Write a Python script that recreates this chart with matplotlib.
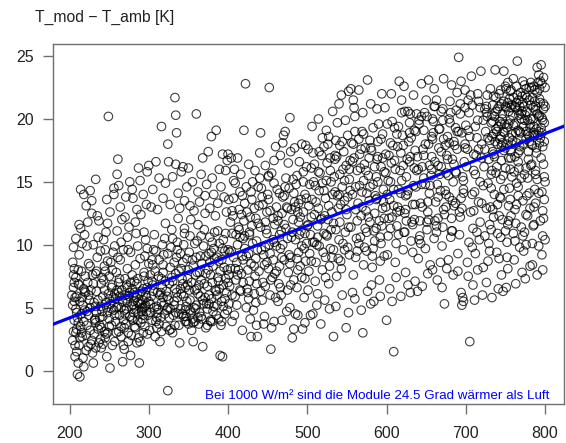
import numpy as np
import matplotlib
matplotlib.use("Agg")
import matplotlib.pyplot as plt

plt.rcParams['font.family'] = ['Liberation Sans', 'DejaVu Sans']

#%% data: (irradiance W/m2, T_mod - T_amb K), per 100 W/m2 band

band_200 = [
    (204, 2.4), (205, 3.1), (206, 4.0), (204, 5.2), (207, 5.8), (205, 6.6), (208, 7.4), (206, 8.1),
    (204, 8.6), (209, 1.5), (210, -0.3), (213, -0.5), (211, 0.6), (207, 1.1), (212, 2.0), (214, 3.5),
    (209, 4.6), (213, 5.5), (211, 6.9), (215, 7.9), (212, 9.2), (216, 10.1), (214, 11.3), (210, 4.2),
    (208, 3.0), (216, 2.7), (217, 1.0), (218, 0.3), (219, 4.8), (220, 6.2), (214, 14.4), (221, 13.1),
    (226, 14.3), (228, 13.5), (228, 12.5), (222, 9.9), (224, 8.5), (223, 7.0), (225, 5.6), (224, 4.4),
    (226, 3.2), (227, 2.1), (229, 1.4), (230, 0.6), (231, 2.9), (232, 4.0), (233, 5.1), (234, 6.3),
    (233, 7.7), (235, 9.0), (236, 10.6), (237, 11.9), (238, 3.6), (239, 2.5), (240, 1.8), (241, 4.7),
    (242, 5.9), (243, 7.2), (244, 8.3), (245, 9.6), (246, 11.0), (247, 1.1), (248, 3.0), (249, 20.2),
    (250, 4.1), (251, 0.2), (252, 5.3), (253, 6.6), (254, 8.0), (255, 9.4), (256, 14.5), (256, 14.0),
    (257, 2.3), (258, 3.9), (259, 5.0), (260, 15.6), (261, 16.8), (262, 6.2), (263, 7.3), (264, 8.8),
    (265, 10.2), (266, 12.0), (267, 0.7), (268, 2.0), (269, 3.4), (270, 4.5), (271, 5.7), (272, 6.8),
    (273, 8.1), (274, 9.6), (275, 11.4), (276, 15.0), (277, 1.2), (278, 2.8), (279, 4.2), (280, 5.2),
    (281, 6.0), (282, 7.1), (283, 8.4), (284, 10.9), (285, 12.8), (287, 16.1), (288, 0.6), (289, 2.3),
    (290, 3.8), (291, 4.9), (292, 5.6), (293, 6.5), (294, 7.8), (295, 9.1), (296, 10.4), (297, 13.2),
    (298, 15.8), (299, 4.4), (300, 5.5),
    (203, 6.0), (206, 7.0), (209, 5.9), (211, 3.8), (215, 4.5), (217, 5.2), (218, 6.5), (221, 2.8),
    (222, 3.6), (224, 1.9), (227, 6.4), (229, 7.6), (231, 5.4), (234, 4.6), (236, 3.3), (237, 2.2),
    (240, 6.9), (242, 4.3), (244, 3.1), (245, 2.6), (247, 5.0), (249, 6.1), (250, 7.5), (252, 8.6),
    (253, 3.6), (254, 2.0), (256, 4.8), (258, 5.7), (259, 7.8), (261, 9.0), (262, 3.1), (263, 4.4),
    (265, 5.0), (266, 6.4), (268, 9.6), (269, 1.7), (270, 7.3), (272, 4.9), (273, 5.4), (274, 3.0),
    (276, 6.2), (278, 5.1), (279, 7.6), (281, 4.6), (282, 3.5), (284, 5.8), (285, 6.9), (286, 4.0),
    (287, 2.6), (288, 5.3), (289, 8.9), (291, 6.3), (292, 4.1), (293, 3.0), (295, 5.1), (296, 6.0),
    (297, 4.7), (298, 2.9), (299, 7.1), (300, 8.5),
    (205, 9.8), (208, 10.5), (212, 11.6), (219, 10.8), (223, 11.8), (230, 10.0), (235, 12.3), (239, 9.5),
    (243, 10.4), (248, 11.7), (251, 12.6), (257, 9.9), (260, 11.1), (264, 13.0), (270, 12.2), (273, 10.6),
    (277, 9.4), (280, 13.7), (283, 11.8), (286, 9.9), (290, 12.4), (294, 11.0), (298, 9.7),
    (218, 14.0), (233, 15.2), (247, 13.6), (262, 14.7), (271, 13.8), (279, 14.4), (289, 15.1), (293, 14.0),
    (300, 16.3),
]

core_200 = [
    (233, 3.8), (261, 5.1), (287, 4.5), (219, 6.3), (246, 2.9), (275, 5.9), (292, 5.0), (208, 4.9),
    (254, 6.8), (283, 3.4), (226, 5.0), (268, 4.0), (297, 5.8), (213, 2.6), (241, 7.4), (279, 6.5),
    (250, 3.5), (222, 4.7), (265, 2.7), (289, 6.1), (236, 5.6), (271, 3.7), (205, 7.6), (257, 4.4),
    (284, 4.9), (230, 6.9), (246, 5.4), (274, 2.3), (293, 4.4), (216, 5.8), (262, 7.0), (281, 5.5),
    (238, 4.2), (209, 3.3), (255, 5.8), (286, 7.3), (228, 2.4), (267, 5.5), (295, 3.5), (244, 6.4),
    (212, 6.8), (276, 4.3), (259, 3.0), (234, 7.9), (290, 5.3), (221, 1.6), (248, 4.6), (282, 6.2),
    (270, 6.0), (206, 5.5), (240, 3.4), (263, 5.9), (298, 6.6), (226, 8.3), (253, 4.9), (285, 2.2),
    (215, 3.0), (277, 7.0), (245, 7.9), (233, 1.8), (291, 4.7), (260, 6.4), (220, 7.5), (269, 4.8),
    (250, 5.7), (207, 2.0), (280, 4.0), (239, 5.1), (296, 5.2), (224, 6.0), (257, 6.1), (273, 6.6),
    (211, 8.0), (248, 8.7), (286, 5.4), (232, 4.1), (265, 3.5), (242, 2.1), (218, 3.9), (294, 7.5),
]

band_300 = [
    (301, 3.2), (302, 4.6), (303, 5.9), (304, 7.1), (305, 8.4), (306, 9.6), (307, 10.8), (308, 2.7),
    (309, 3.9), (310, 5.1), (311, 6.2), (312, 7.5), (313, 8.8), (314, 2.3), (315, 4.2), (316, 5.4),
    (317, 6.6), (318, 7.8), (319, 9.2), (320, 10.5), (321, 11.7), (322, 3.5), (323, 4.8), (324, -1.6),
    (325, 5.6), (326, 6.9), (327, 8.2), (328, 9.8), (329, 11.2), (330, 3.0), (331, 4.4), (332, 5.2),
    (333, 6.5), (334, 7.7), (335, 9.0), (336, 10.2), (337, 12.1), (338, 3.6), (339, 2.2), (340, 4.9),
    (341, 6.1), (342, 7.3), (343, 8.6), (344, 10.0), (345, 11.3), (346, 3.9), (347, 4.3), (348, 5.5),
    (349, 6.8), (350, 8.0), (351, 9.4), (352, 10.7), (353, 12.0), (354, 3.2), (355, 4.1), (356, 2.3),
    (357, 5.0), (358, 6.4), (359, 7.6), (360, 9.0), (361, 10.3), (362, 11.6), (363, 3.7), (364, 4.6),
    (365, 5.9), (366, 7.2), (367, 8.5), (368, 1.9), (369, 9.9), (370, 11.2), (371, 12.5), (372, 3.4),
    (373, 5.3), (374, 6.7), (375, 8.0), (376, 9.3), (377, 10.6), (378, 4.0), (379, 5.7), (380, 7.0),
    (381, 8.3), (382, 9.7), (383, 11.0), (384, 12.3), (385, 4.4), (386, 6.0), (387, 7.4), (388, 8.7),
    (389, 10.1), (390, 1.2), (391, 3.6), (392, 5.5), (393, 1.1), (394, 6.8), (395, 8.2), (396, 9.5),
    (397, 10.9), (398, 12.6), (399, 4.8), (400, 7.0),
    (302, 5.3), (304, 4.0), (306, 6.3), (308, 7.9), (310, 3.4), (312, 4.9), (314, 6.0), (316, 3.1),
    (318, 5.8), (320, 4.5), (322, 6.3), (324, 5.0), (326, 4.2), (328, 3.3), (330, 7.1), (332, 8.6),
    (334, 4.6), (336, 5.8), (338, 7.9), (340, 9.3), (342, 4.5), (344, 5.9), (346, 6.6), (348, 8.9),
    (350, 3.7), (352, 4.8), (354, 7.0), (356, 8.3), (358, 3.9), (360, 5.2), (362, 6.1), (364, 7.8),
    (366, 4.3), (368, 5.6), (370, 6.9), (372, 9.1), (374, 4.9), (376, 5.3), (378, 7.6), (380, 3.9),
    (382, 5.1), (384, 6.4), (386, 9.0), (388, 4.1), (390, 7.9), (392, 8.8), (394, 10.4), (396, 5.7),
    (398, 6.2), (400, 9.6),
    (303, 13.0), (305, 14.4), (309, 16.6), (311, 12.8), (313, 15.3), (316, 19.4), (318, 13.7), (321, 14.9),
    (324, 18.0), (325, 16.6), (327, 13.2), (330, 15.4), (333, 21.7), (334, 16.4), (334, 20.3), (335, 18.9),
    (337, 14.1), (339, 12.9), (341, 15.8), (343, 16.2), (345, 13.5), (348, 14.6), (350, 16.1), (352, 13.1),
    (355, 15.0), (357, 12.7), (360, 20.4), (362, 14.2), (364, 13.4), (366, 15.6), (368, 16.9), (371, 13.9),
    (373, 14.8), (375, 17.4), (377, 12.9), (379, 18.6), (380, 15.3), (382, 14.0), (385, 19.1), (387, 13.3),
    (389, 16.0), (391, 14.6), (393, 17.2), (395, 13.8), (397, 15.9), (399, 16.7),
]

core_300 = [
    (311, 4.6), (347, 5.1), (329, 7.4), (362, 4.2), (385, 6.3), (305, 6.8), (338, 4.5), (356, 3.8),
    (372, 7.7), (394, 5.1), (318, 8.4), (343, 6.9), (365, 9.1), (381, 4.7), (323, 5.9), (352, 5.6),
    (309, 9.5), (376, 6.0), (333, 3.6), (399, 8.0), (341, 8.1), (315, 6.2), (359, 4.9), (388, 7.1),
    (327, 4.9), (369, 5.3), (302, 7.6), (348, 3.9), (392, 3.9), (336, 9.6), (313, 3.7), (363, 6.8),
    (380, 10.2), (321, 7.1), (355, 8.8), (397, 7.3), (344, 4.3), (307, 5.0), (374, 3.6), (330, 10.5),
    (360, 6.5), (386, 5.2), (317, 10.0), (349, 7.3), (377, 8.6), (340, 6.5), (326, 3.2), (393, 9.7),
    (367, 4.1), (304, 8.8), (353, 4.6), (383, 8.9), (335, 6.2), (316, 7.3), (371, 5.8), (345, 10.9),
    (389, 6.5), (324, 9.3), (358, 10.1), (310, 4.2), (379, 9.4), (346, 4.8), (396, 4.5), (332, 5.5),
    (361, 7.8), (378, 3.9), (319, 5.2), (351, 6.4), (387, 11.1), (366, 10.7),
]

band_400 = [
    (401, 5.3), (402, 6.7), (403, 8.1), (404, 9.5), (405, 10.9), (406, 12.3), (407, 13.7), (408, 4.4),
    (409, 5.9), (410, 7.2), (411, 8.6), (412, 10.0), (413, 11.4), (414, 12.8), (415, 14.2), (416, 6.3),
    (417, 7.7), (418, 9.1), (419, 10.5), (420, 11.9), (421, 13.3), (422, 22.8), (423, 5.0), (424, 6.5),
    (425, 8.0), (426, 9.3), (427, 10.8), (428, 12.2), (429, 2.7), (430, 13.6), (431, 15.0), (432, 4.8),
    (433, 6.1), (434, 7.5), (435, 8.9), (436, 10.3), (437, 2.7), (438, 11.7), (439, 13.1), (440, 17.3),
    (441, 18.9), (442, 14.5), (443, 5.6), (444, 7.0), (445, 3.7), (446, 8.4), (447, 9.8), (448, 11.2),
    (449, 12.6), (450, 14.0), (451, 15.4), (452, 22.5), (453, 6.0), (454, 1.7), (455, 3.4), (456, 7.4),
    (457, 8.8), (458, 10.2), (459, 11.6), (460, 17.8), (461, 13.0), (462, 14.4), (463, 5.5), (464, 6.9),
    (465, 8.3), (466, 9.7), (467, 11.1), (468, 12.5), (469, 18.1), (470, 18.7), (471, 13.9), (472, 19.0),
    (473, 15.3), (474, 4.7), (475, 6.4), (476, 7.8), (477, 9.2), (478, 20.1), (479, 17.4), (480, 10.6),
    (481, 2.6), (482, 12.0), (483, 3.3), (484, 13.4), (485, 4.5), (486, 14.8), (487, 6.6), (488, 8.0),
    (489, 9.4), (490, 10.8), (491, 12.2), (492, 13.6), (493, 18.0), (494, 3.3), (495, 15.0), (496, 5.8),
    (497, 7.3), (498, 8.7), (499, 10.1), (500, 11.5),
    (401, 7.6), (403, 11.8), (405, 6.0), (407, 9.0), (409, 14.9), (411, 5.2), (413, 8.0), (415, 10.6),
    (417, 12.4), (419, 7.0), (421, 9.7), (423, 14.6), (425, 6.2), (427, 11.0), (429, 8.5), (431, 10.1),
    (433, 12.9), (435, 5.4), (437, 9.6), (439, 7.9), (441, 11.4), (443, 13.8), (445, 9.2), (447, 6.7),
    (449, 10.9), (451, 8.1), (453, 12.7), (455, 15.7), (457, 10.4), (459, 7.7), (461, 9.9), (463, 11.9),
    (465, 14.1), (467, 6.0), (469, 10.0), (471, 8.8), (473, 11.3), (475, 12.9), (477, 14.5), (479, 9.0),
    (481, 11.0), (483, 7.2), (485, 13.0), (487, 15.5), (489, 11.8), (491, 8.3), (493, 9.9), (495, 12.6),
    (497, 14.0), (499, 16.2),
    (400, 17.2), (404, 16.9), (408, 16.0), (412, 16.9), (416, 15.6), (420, 19.1), (426, 16.4), (434, 15.9),
    (447, 16.3), (451, 15.5), (458, 16.7), (466, 17.1), (476, 16.5), (484, 17.7), (490, 16.6), (498, 17.9),
    (405, 3.9), (418, 3.2), (428, 4.1), (436, 3.6), (446, 4.3), (458, 3.9), (468, 4.0), (478, 5.0),
    (488, 4.4), (497, 3.8),
]

core_400 = [
    (412, 7.6), (447, 11.8), (468, 9.0), (489, 13.3), (405, 12.7), (433, 8.3), (458, 14.9), (479, 6.8),
    (421, 10.7), (496, 9.7), (441, 6.3), (463, 12.3), (418, 13.9), (485, 10.4), (427, 7.1), (452, 10.0),
    (474, 13.0), (402, 9.4), (438, 14.6), (493, 7.4), (415, 6.4), (461, 7.9), (482, 15.2), (430, 11.5),
    (449, 8.6), (471, 11.6), (407, 15.1), (444, 13.2), (488, 12.6), (423, 9.1), (466, 6.6), (499, 13.7),
    (436, 6.9), (457, 12.1), (478, 8.5), (410, 10.8), (492, 11.1), (429, 14.2), (454, 7.2), (475, 10.5),
    (419, 8.8), (442, 9.6), (483, 14.1), (465, 10.8), (401, 13.6), (435, 12.1), (497, 10.9), (451, 13.6),
    (426, 5.7), (472, 14.6), (414, 11.2), (487, 8.9), (440, 15.3), (460, 5.8), (480, 12.8), (424, 12.6),
    (453, 9.3), (495, 15.8), (409, 8.1), (469, 13.8),
]

band_500 = [
    (501, 6.4), (502, 7.9), (503, 9.3), (504, 10.8), (505, 12.2), (506, 13.6), (507, 4.5), (508, 15.0),
    (509, 16.4), (510, 7.1), (511, 8.6), (512, 10.0), (513, 11.5), (514, 12.9), (515, 14.3), (516, 15.7),
    (517, 3.7), (518, 17.1), (519, 8.0), (520, 9.4), (521, 10.9), (522, 12.3), (523, 13.7), (524, 15.1),
    (525, 16.5), (526, 18.0), (527, 6.9), (528, 8.3), (529, 9.7), (530, 11.2), (531, 12.6), (532, 14.0),
    (533, 2.7), (534, 15.4), (535, 16.8), (536, 18.3), (537, 7.5), (538, 19.7), (539, 8.9), (540, 10.4),
    (541, 11.8), (542, 13.2), (543, 21.9), (544, 14.6), (545, 16.0), (546, 17.4), (547, 9.6), (548, 11.0),
    (549, 3.4), (550, 12.4), (551, 13.8), (552, 22.2), (553, 15.2), (554, 16.7), (555, 22.4), (556, 18.1),
    (557, 6.2), (558, 7.6), (559, 20.9), (560, 20.2), (561, 9.0), (562, 10.5), (563, 11.9), (564, 13.3),
    (565, 22.3), (566, 14.7), (567, 16.1), (568, 17.6), (569, 19.0), (570, 3.0), (571, 8.4), (572, 9.8),
    (573, 11.3), (574, 12.7), (575, 14.1), (576, 23.1), (577, 15.5), (578, 16.9), (579, 18.3), (580, 5.3),
    (581, 6.8), (582, 8.2), (583, 9.7), (584, 11.1), (585, 12.5), (586, 13.9), (587, 15.4), (588, 16.8),
    (589, 18.2), (590, 19.6), (591, 7.2), (592, 8.7), (593, 10.1), (594, 11.5), (595, 12.9), (596, 14.4),
    (597, 15.8), (598, 20.9), (599, 17.2), (600, 4.0),
    (501, 11.6), (503, 14.8), (505, 8.7), (507, 17.3), (509, 10.2), (511, 13.4), (513, 6.1), (515, 9.9),
    (517, 12.0), (519, 14.9), (521, 17.8), (523, 7.4), (525, 10.7), (527, 13.1), (529, 15.9), (531, 9.0),
    (533, 11.7), (535, 14.2), (537, 17.0), (539, 12.9), (541, 15.6), (543, 8.1), (545, 10.1), (547, 13.5),
    (549, 16.3), (551, 18.7), (553, 9.2), (555, 11.4), (557, 14.0), (559, 16.9), (561, 12.8), (563, 15.9),
    (565, 18.4), (567, 10.6), (569, 13.0), (571, 15.1), (573, 17.7), (575, 9.5), (577, 12.2), (579, 14.6),
    (581, 17.5), (583, 19.3), (585, 10.3), (587, 13.6), (589, 15.0), (591, 11.9), (593, 16.2), (595, 18.8),
    (597, 9.1), (599, 13.0),
    (504, 4.4), (512, 5.2), (522, 5.6), (528, 4.9), (536, 5.1), (544, 6.0), (552, 4.6), (560, 5.7),
    (568, 4.8), (576, 6.3), (584, 5.5), (592, 5.9), (506, 19.4), (514, 20.0), (524, 19.1), (532, 20.6),
    (540, 21.2), (548, 19.9), (558, 21.5), (570, 20.5), (580, 21.2), (588, 20.8), (594, 22.0),
]

core_500 = [
    (513, 10.6), (547, 15.1), (568, 12.3), (589, 17.0), (505, 16.1), (533, 9.6), (558, 18.0), (579, 11.8),
    (521, 14.3), (596, 13.4), (541, 17.9), (563, 9.5), (518, 12.1), (585, 16.2), (527, 18.6), (552, 11.4),
    (574, 15.9), (502, 13.1), (538, 13.9), (593, 18.4), (515, 17.4), (561, 14.6), (582, 9.1), (530, 15.0),
    (549, 12.8), (571, 18.8), (507, 10.2), (544, 18.2), (588, 13.7), (523, 9.0), (566, 17.2), (599, 15.7),
    (536, 11.2), (557, 16.6), (578, 13.5), (510, 14.7), (592, 10.6), (529, 16.9), (554, 14.3), (575, 11.0),
    (519, 18.5), (542, 8.7), (583, 14.8), (565, 10.1), (501, 17.6), (535, 17.1), (597, 12.1), (551, 9.8),
    (526, 12.0), (572, 16.4), (514, 15.8), (587, 11.3), (540, 14.0), (560, 19.0), (580, 17.7), (524, 10.8),
    (553, 16.0), (595, 16.9), (509, 12.4), (569, 14.2),
]

band_600 = [
    (601, 9.2), (602, 10.7), (603, 12.1), (604, 13.6), (605, 15.0), (606, 16.5), (607, 5.5), (608, 17.9),
    (609, 1.5), (610, 19.3), (611, 8.6), (612, 10.1), (613, 11.5), (614, 13.0), (615, 14.4), (616, 23.0),
    (617, 15.9), (618, 17.3), (619, 21.5), (620, 18.7), (621, 9.6), (622, 11.0), (623, 12.5), (624, 13.9),
    (625, 15.4), (626, 16.8), (627, 6.8), (628, 18.2), (629, 19.7), (630, 20.4), (631, 10.3), (632, 11.8),
    (633, 13.2), (634, 14.7), (635, 16.1), (636, 17.5), (637, 19.0), (638, 20.4), (639, 6.3), (640, 8.9),
    (641, 10.4), (642, 11.9), (643, 13.3), (644, 14.8), (645, 16.2), (646, 17.6), (647, 19.1), (648, 20.5),
    (649, 9.7), (650, 21.5), (651, 11.2), (652, 12.6), (653, 23.1), (654, 14.1), (655, 8.4), (656, 15.5),
    (657, 17.0), (658, 18.4), (659, 19.8), (660, 10.5), (661, 11.9), (662, 13.4), (663, 21.5), (664, 14.8),
    (665, 16.3), (666, 17.7), (667, 19.2), (668, 8.6), (669, 20.6), (670, 9.9), (671, 11.4), (672, 12.8),
    (673, 5.3), (674, 14.3), (675, 15.7), (676, 17.1), (677, 18.6), (678, 8.8), (679, 20.0), (680, 21.4),
    (681, 10.6), (682, 12.1), (683, 13.5), (684, 15.0), (685, 16.4), (686, 17.9), (687, 19.3), (688, 20.7),
    (689, 22.1), (690, 9.3), (691, 24.9), (692, 10.8), (693, 12.2), (694, 13.7), (695, 5.2), (696, 5.8),
    (697, 15.1), (698, 16.6), (699, 18.0), (700, 19.5),
    (601, 14.0), (603, 17.1), (605, 11.3), (607, 19.8), (609, 13.1), (611, 16.0), (613, 18.8), (615, 10.8),
    (617, 12.7), (619, 15.1), (621, 17.9), (623, 20.6), (625, 11.9), (627, 14.3), (629, 16.6), (631, 18.5),
    (633, 9.4), (635, 12.0), (637, 14.6), (639, 17.0), (641, 19.6), (643, 10.1), (645, 13.0), (647, 15.3),
    (649, 18.0), (651, 20.2), (653, 12.0), (655, 14.7), (657, 16.0), (659, 18.9), (661, 21.0), (663, 11.0),
    (665, 13.8), (667, 15.6), (669, 17.4), (671, 19.9), (673, 12.4), (675, 14.0), (677, 16.8), (679, 18.1),
    (681, 20.5), (683, 11.1), (685, 13.1), (687, 15.8), (689, 17.6), (691, 19.0), (693, 21.2), (695, 12.9),
    (697, 14.4), (699, 20.9),
    (604, 6.5), (612, 7.4), (618, 5.9), (624, 7.8), (630, 6.2), (636, 7.1), (645, 6.7), (652, 7.7),
    (658, 8.0), (664, 7.2), (670, 6.6), (676, 8.1), (684, 7.6), (690, 7.9), (694, 6.2), (697, 5.5),
    (606, 22.0), (622, 22.6), (634, 21.9), (644, 22.8), (660, 22.4), (672, 23.2), (682, 22.7), (694, 23.0),
    (699, 22.3),
]

core_600 = [
    (613, 12.6), (647, 17.1), (668, 14.3), (689, 19.0), (605, 18.1), (633, 11.6), (658, 20.0), (679, 13.8),
    (621, 16.3), (696, 15.4), (641, 19.9), (663, 11.5), (618, 14.1), (685, 18.2), (627, 20.6), (652, 13.4),
    (674, 17.9), (602, 15.1), (638, 15.9), (693, 20.4), (615, 19.4), (661, 16.6), (682, 11.1), (630, 17.0),
    (649, 14.8), (671, 20.8), (607, 12.2), (644, 20.2), (688, 15.7), (623, 11.0), (666, 19.2), (699, 17.7),
    (636, 13.2), (657, 18.6), (678, 15.5), (610, 16.7), (692, 12.6), (629, 18.9), (654, 16.3), (675, 13.0),
    (619, 20.5), (642, 10.7), (683, 16.8), (665, 12.1), (601, 19.6), (635, 19.1), (697, 14.1), (651, 11.8),
    (626, 14.0), (672, 18.4), (614, 17.8), (687, 13.3), (640, 16.0), (660, 21.0), (680, 19.7), (624, 12.8),
    (653, 18.0), (695, 18.9), (609, 14.4), (669, 16.2),
]

band_700 = [
    (701, 16.2), (702, 17.6), (703, 19.1), (704, 20.5), (705, 2.3), (706, 21.9), (707, 23.4), (708, 9.8),
    (709, 11.3), (710, 12.7), (711, 14.2), (712, 15.6), (713, 17.1), (714, 18.5), (715, 19.9), (716, 21.4),
    (717, 10.4), (718, 11.8), (719, 23.8), (720, 13.3), (721, 6.0), (722, 14.7), (723, 16.2), (724, 17.6),
    (725, 19.0), (726, 20.5), (727, 21.9), (728, 8.7), (729, 10.1), (730, 11.6), (731, 13.0), (732, 14.5),
    (733, 15.9), (734, 17.4), (735, 18.8), (736, 20.2), (737, 23.9), (738, 21.7), (739, 9.4), (740, 10.9),
    (741, 6.5), (742, 12.3), (743, 13.8), (744, 15.2), (745, 16.7), (746, 18.1), (747, 6.3), (748, 23.8),
    (749, 19.6), (750, 21.0), (751, 22.4), (752, 10.2), (753, 11.6), (754, 13.1), (755, 14.5), (756, 16.0),
    (757, 17.4), (758, 18.8), (759, 20.3), (760, 21.7), (761, 8.8), (762, 10.3), (763, 11.7), (764, 13.2),
    (765, 24.6), (766, 14.6), (767, 16.1), (768, 17.5), (769, 18.9), (770, 20.4), (771, 21.8), (772, 23.0),
    (773, 9.5), (774, 11.0), (775, 7.3), (776, 12.4), (777, 13.9), (778, 15.3), (779, 16.8), (780, 18.2),
    (781, 19.6), (782, 21.1), (783, 22.5), (784, 10.1), (785, 11.5), (786, 13.0), (787, 14.4), (788, 15.9),
    (789, 17.3), (790, 24.1), (791, 18.7), (792, 20.2), (793, 21.6), (794, 23.0), (795, 24.3), (796, 9.2),
    (797, 10.7), (798, 12.1), (799, 13.6), (800, 15.0),
    (730, 18.3), (732, 19.7), (734, 21.1), (736, 17.0), (738, 19.2), (740, 20.8), (742, 22.0), (744, 18.6),
    (746, 20.0), (748, 21.4), (750, 17.7), (752, 19.3), (754, 20.6), (756, 22.2), (758, 18.0), (760, 19.5),
    (762, 21.0), (764, 22.6), (766, 17.3), (768, 19.0), (770, 20.0), (772, 21.3), (774, 22.7), (776, 18.4),
    (778, 19.9), (780, 21.5), (782, 22.9), (784, 17.9), (786, 19.4), (788, 20.7), (790, 22.1), (792, 23.5),
    (794, 18.5), (796, 20.1), (798, 21.2), (800, 22.5), (735, 21.8), (745, 21.2), (755, 18.5), (765, 20.7),
    (775, 21.9), (785, 20.9), (795, 19.3), (733, 20.3), (743, 19.8), (753, 22.9), (763, 18.9), (773, 19.4),
    (783, 18.0), (793, 22.4), (797, 17.8), (799, 19.7), (787, 22.3), (777, 20.6), (767, 21.5), (757, 20.9),
    (747, 19.0), (737, 18.2), (727, 20.2), (731, 22.4),
    (702, 8.6), (704, 10.2), (706, 12.6), (708, 14.0), (710, 15.9), (712, 9.3), (714, 11.0), (716, 13.4),
    (718, 15.0), (720, 16.9), (722, 8.2), (724, 10.7), (726, 12.9), (728, 14.9), (730, 9.5), (732, 11.2),
    (734, 12.8), (736, 14.0), (738, 15.7), (740, 13.2), (742, 8.9), (744, 10.6), (746, 12.0), (748, 14.4),
    (750, 16.1), (752, 9.0), (754, 11.9), (756, 13.6), (758, 15.4), (760, 10.9), (762, 12.8), (764, 14.9),
    (766, 16.6), (768, 9.8), (770, 11.4), (772, 13.5), (774, 15.6), (776, 10.0), (778, 12.3), (780, 14.1),
    (782, 16.3), (784, 8.4), (786, 11.6), (788, 13.3), (790, 15.2), (792, 9.9), (794, 11.9), (796, 14.2),
    (798, 16.4), (800, 10.4),
    (703, 7.5), (711, 5.6), (715, 8.0), (726, 7.0), (733, 5.8), (745, 7.6), (753, 8.1), (763, 6.9),
    (771, 7.8), (781, 8.3), (790, 7.6), (797, 8.0), (709, 6.8), (751, 6.6),
]

core_700 = [
    (741, 19.4), (763, 20.9), (787, 18.7), (755, 21.6), (779, 17.4), (798, 20.8), (733, 18.6), (769, 22.1),
    (792, 19.0), (748, 17.5), (775, 20.3), (759, 18.3), (784, 21.7), (738, 20.6), (796, 22.8), (766, 19.1),
    (751, 20.9), (781, 19.3), (744, 22.3), (772, 18.0), (790, 20.4), (757, 16.9), (735, 17.2), (764, 21.3),
    (786, 22.6), (749, 18.9), (777, 21.7), (799, 18.2), (742, 21.0), (768, 17.8), (794, 21.3), (754, 19.6),
    (782, 20.0), (760, 23.2), (728, 18.5), (789, 17.7), (771, 20.6), (746, 20.4), (797, 19.9), (762, 17.0),
    (780, 22.5), (739, 19.0), (753, 21.3), (776, 19.0), (791, 22.9), (765, 21.9), (745, 17.9), (785, 18.9),
    (758, 21.1), (800, 21.0), (734, 19.8), (773, 21.0), (793, 18.1), (750, 22.6), (778, 18.8), (743, 18.4),
    (767, 20.3), (788, 21.0), (756, 19.9), (726, 21.0),
    (720, 18.0), (724, 20.8), (712, 19.4), (716, 17.6), (708, 21.1), (705, 18.6), (715, 22.0), (722, 19.9),
    (710, 17.2), (718, 20.9), (729, 16.8), (703, 21.5),
    (761, 15.8), (783, 16.4), (747, 15.5), (795, 16.9), (770, 15.3), (739, 16.2), (788, 15.6), (754, 16.9),
    (776, 16.1), (732, 15.6), (799, 15.4), (766, 13.9), (781, 12.9), (744, 13.7), (792, 14.1), (757, 12.3),
    (772, 10.7), (735, 12.2), (797, 12.7), (750, 11.1),
    (785, 20.0), (762, 19.6), (793, 20.3), (774, 19.9), (752, 18.0), (789, 19.2), (768, 21.0), (757, 22.3),
    (780, 18.6), (745, 19.6), (796, 18.9), (764, 18.1), (776, 22.4), (740, 18.0), (787, 21.4), (798, 23.3),
]

# regression line as drawn (intercept K, slope K per W/m2)
fit_intercept = -0.70
fit_slope = 0.02443

note_text = "Bei 1000 W/m² sind die Module 24.5 Grad wärmer als Luft"
y_title = "T_mod \u2212 T_amb [K]"
x_ticks = [200, 300, 400, 500, 600, 700, 800]
y_ticks = [0, 5, 10, 15, 20, 25]

#%%

all_pts = (band_200 + core_200 + band_300 + core_300 + band_400 + core_400
           + band_500 + core_500 + band_600 + core_600 + band_700 + core_700)
pts = np.array(all_pts, dtype=float)
irr = pts[:, 0]
dT = pts[:, 1]

fig = plt.figure(figsize=(5.66, 4.43), dpi=100)
ax = fig.add_axes([53/566, 39/443, 511/566, 360/443])

ax.scatter(irr, dT, s=38, facecolors='none', edgecolors='black',
           linewidths=0.8, alpha=0.75, zorder=2)
ax.axline((0, fit_intercept), slope=fit_slope, color='#0000ff', lw=2.3, zorder=3)

# R style 4% padding
xr = irr.max() - irr.min()
yr = dT.max() - dT.min()
ax.set_xlim(irr.min() - 0.04*xr, irr.max() + 0.04*xr)
ax.set_ylim(dT.min() - 0.04*yr, dT.max() + 0.04*yr)

ax.set_xticks(x_ticks)
ax.set_yticks(y_ticks)
ax.tick_params(axis='both', length=7, width=1, color='#707070',
               labelsize=11.5, labelcolor='#222222')
ax.tick_params(axis='x', pad=9)
ax.tick_params(axis='y', pad=7)
for sp in ax.spines.values():
    sp.set_color('#707070')
    sp.set_linewidth(1.0)

ax.text(805, -2.0, note_text, color='#0000ff', fontsize=9.6,
        ha='right', va='center')
fig.text(35/566, 1 - 17/443, y_title, fontsize=11.3, ha='left', va='center',
         color='#222222')

fig.savefig("out.png", dpi=100)
